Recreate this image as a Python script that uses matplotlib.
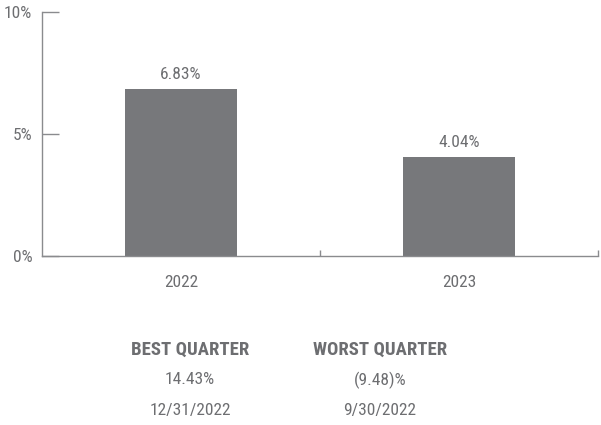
import matplotlib.pyplot as plt

years = ['2022', '2023']
returns = [6.83, 4.04]
bar_labels = ['6.83%', '4.04%']
y_ticks = [0, 5, 10]
y_tick_labels = ['0%', '5%', '10%']

quarter_titles = ['BEST QUARTER', 'WORST QUARTER']
quarter_values = ['14.43%', '(9.48)%']
quarter_dates = ['12/31/2022', '9/30/2022']

plt.rcParams['font.family'] = ['Roboto Condensed', 'DejaVu Sans']
plt.rcParams['font.stretch'] = 'condensed'

text_color = '#6d6e71'
bar_color = '#77787b'
axis_color = '#8a8b8e'

fig = plt.figure(figsize=(6.01, 4.25), dpi=100)
ax = fig.add_axes([42 / 601, 1 - 256 / 425, 556 / 601, 244 / 425])

pos = [0.5, 1.5]
ax.bar(pos, returns, width=0.4, color=bar_color)
for p, v, lab in zip(pos, returns, bar_labels):
    ax.text(p, v + 0.3, lab, ha='center', va='bottom', fontsize=12.5, color=text_color)

ax.set_xlim(0, 2)
ax.set_ylim(0, 10)
ax.set_yticks(y_ticks)
ax.set_yticklabels(y_tick_labels, fontsize=12.5, color=text_color)
ax.tick_params(axis='y', direction='in', length=12, width=1, color=axis_color, pad=7)

ax.set_xticks(pos)
ax.set_xticklabels(years, fontsize=12.5, color=text_color)
ax.tick_params(axis='x', which='major', length=0, pad=14)
ax.set_xticks([1, 2], minor=True)
ax.tick_params(axis='x', which='minor', direction='in', length=4, width=1, color=axis_color)

for s in ['top', 'right']:
    ax.spines[s].set_visible(False)
for s in ['left', 'bottom']:
    ax.spines[s].set_color(axis_color)
    ax.spines[s].set_linewidth(1)

# best / worst quarter block under the chart
cols = [190 / 601, 380 / 601]
for x, t, v, d in zip(cols, quarter_titles, quarter_values, quarter_dates):
    fig.text(x, 1 - 350 / 425, t, ha='center', va='center', fontsize=13.5, fontweight='bold', color=text_color)
    fig.text(x, 1 - 380 / 425, v, ha='center', va='center', fontsize=12.5, color=text_color)
    fig.text(x, 1 - 410 / 425, d, ha='center', va='center', fontsize=12.5, color=text_color)

fig.savefig('out.png', dpi=100)
